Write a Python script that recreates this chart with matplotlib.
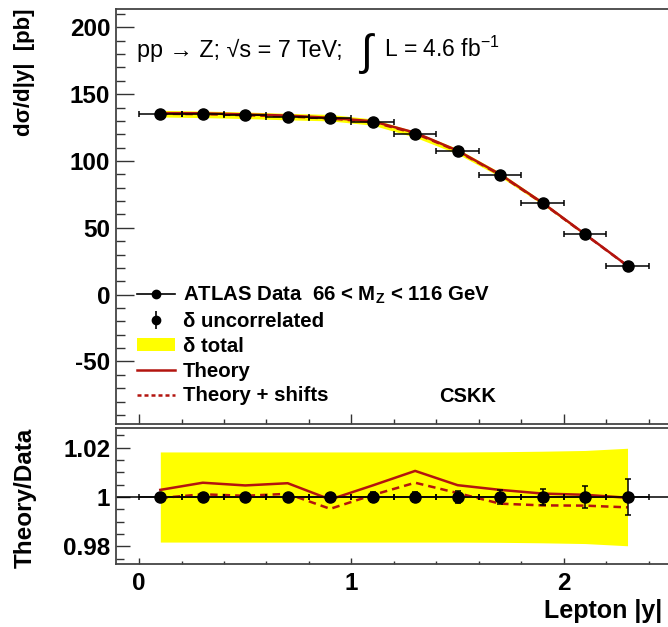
import matplotlib
matplotlib.use('Agg')
import matplotlib.pyplot as plt
import numpy as np
from matplotlib.lines import Line2D
from matplotlib.patches import Patch
from matplotlib.ticker import MultipleLocator

plt.rcParams['font.family'] = ['Liberation Sans', 'DejaVu Sans']
plt.rcParams['mathtext.fontset'] = 'custom'
plt.rcParams['mathtext.rm'] = 'Liberation Sans'
plt.rcParams['mathtext.bf'] = 'Liberation Sans:bold'
plt.rcParams['mathtext.it'] = 'Liberation Sans:italic'
plt.rcParams['axes.unicode_minus'] = False

# lepton |y| bins (centres), half width 0.1
y_centres = [0.1, 0.3, 0.5, 0.7, 0.9, 1.1, 1.3, 1.5, 1.7, 1.9, 2.1, 2.3]
y_halfwidth = [0.1] * 12

# measured d sigma / d|y| [pb]
xsec = [135.4, 134.9, 134.2, 133.2, 132.4, 129.1, 119.9, 107.2, 89.8, 68.6, 45.2, 21.6]
# relative uncertainties
unc_uncorr = [0.0012, 0.0012, 0.0012, 0.0012, 0.0013, 0.0022, 0.0022, 0.0025, 0.0027, 0.0034, 0.0046, 0.0075]
unc_total = [0.0183, 0.0183, 0.0183, 0.0183, 0.0183, 0.0183, 0.0183, 0.0183, 0.0184, 0.0186, 0.0189, 0.0198]

# theory / data ratios (CSKK)
ratio_theory = [1.0029, 1.0058, 1.0047, 1.0056, 0.9990, 1.0047, 1.0106, 1.0048, 1.0029, 1.0014, 1.0009, 0.9997]
ratio_shifted = [0.9996, 1.0011, 1.0005, 1.0013, 0.9952, 1.0008, 1.0058, 1.0016, 0.9973, 0.9966, 0.9965, 0.9958]

x = np.array(y_centres)
xe = np.array(y_halfwidth)
d = np.array(xsec)
r_unc = np.array(unc_uncorr)
r_tot = np.array(unc_total)
th = d * np.array(ratio_theory)
th_s = d * np.array(ratio_shifted)

RED = '#b3140f'
YEL = '#ffff00'
W, H = 668, 627

fig = plt.figure(figsize=(W / 100, H / 100), dpi=100)
ax1 = fig.add_axes([115.7 / W, 1 - 424.3 / H, (670 - 115.7) / W, (424.3 - 9) / H])
ax2 = fig.add_axes([115.7 / W, 1 - 564 / H, (670 - 115.7) / W, (564 - 428.3) / H])

# ---- top panel
ax1.fill_between(x, d * (1 - r_tot), d * (1 + r_tot), color=YEL, lw=0, zorder=1)
ax1.plot(x, th, color=RED, lw=1.8, zorder=2)
ax1.plot(x, th_s, color=RED, lw=1.8, ls=(0, (3, 2)), zorder=2)
ax1.errorbar(x, d, xerr=xe, yerr=d * r_unc, fmt='o', color='k', ms=8,
             elinewidth=1.1, capsize=2.5, capthick=1.1, zorder=3)
ax1.set_xlim(-0.11, 2.5)
ax1.set_ylim(-97, 213.7)

# legend
h_data = Line2D([], [], color='k', lw=1.2, marker='o', ms=6)
h_unc = (Line2D([], [], color='k', ls='none', marker='|', ms=13, mew=1.2),
         Line2D([], [], color='k', ls='none', marker='o', ms=6))
h_tot = Patch(facecolor=YEL, edgecolor='none')
h_th = Line2D([], [], color=RED, lw=1.8)
h_ths = Line2D([], [], color=RED, lw=1.8, ls=(0, (1.6, 1.2)))
leg = ax1.legend([h_data, h_unc, h_tot, h_th, h_ths],
                 [r'ATLAS Data  66 < M$_{\mathbf{Z}}$ < 116 GeV', 'δ uncorrelated',
                  'δ total', 'Theory', 'Theory + shifts'],
                 loc='upper left', bbox_to_anchor=(0.038, 0.335), frameon=False,
                 prop={'weight': 'bold', 'size': 14.7}, handlelength=1.86,
                 handleheight=0.6, handletextpad=0.4, labelspacing=0.28,
                 borderaxespad=0, borderpad=0)

fig.text(468 / W, 1 - 396 / H, 'CSKK', ha='center', va='center',
         fontsize=14.5, fontweight='bold')

# title pieces
fig.text(137 / W, 1 - 57 / H, 'pp → Z; √s = 7 TeV;',
         fontsize=16.8, ha='left', va='baseline')
fig.text(367 / W, 1 - 53 / H, r'$\int$', fontsize=31, ha='center', va='center')
fig.text(384 / W, 1 - 57 / H, r'L = 4.6 fb$^{\mathrm{-1}}$', fontsize=16.5,
         ha='left', va='baseline')

# ---- bottom panel
ax2.fill_between(x, 1 - r_tot, 1 + r_tot, color=YEL, lw=0, zorder=1)
ax2.axhline(1.0, color='k', lw=1.1, zorder=2)
ax2.plot(x, ratio_theory, color=RED, lw=1.8, zorder=3)
ax2.plot(x, ratio_shifted, color=RED, lw=1.8, ls=(0, (3, 2)), zorder=3)
ax2.errorbar(x, np.ones_like(x), xerr=xe, yerr=r_unc, fmt='o', color='k', ms=8,
             elinewidth=1.1, capsize=2.5, capthick=1.1, zorder=4)
ax2.set_xlim(-0.11, 2.5)
ax2.set_ylim(0.9728, 1.0279)

for ax in (ax1, ax2):
    ax.xaxis.set_major_locator(MultipleLocator(1))
    ax.xaxis.set_minor_locator(MultipleLocator(0.2))
    ax.tick_params(which='both', direction='in', left=True, bottom=True,
                   top=False, right=False, width=1.0, color='#333333',
                   labelsize=17.5)
    for side in ('left', 'bottom', 'top'):
        ax.spines[side].set_color('#444444')
        ax.spines[side].set_linewidth(1.3)
    ax.spines['right'].set_visible(False)

ax1.yaxis.set_major_locator(MultipleLocator(50))
ax1.yaxis.set_minor_locator(MultipleLocator(10))
ax1.tick_params(axis='y', which='major', length=13, pad=4)
ax1.tick_params(axis='y', which='minor', length=6.5)
ax1.tick_params(axis='x', which='major', length=7, labelbottom=False)
ax1.tick_params(axis='x', which='minor', length=3.6)

ax2.yaxis.set_minor_locator(MultipleLocator(0.005))
ax2.set_yticks([0.98, 1.0, 1.02])
ax2.set_yticklabels(['0.98', '1', '1.02'])
ax2.tick_params(axis='y', which='major', length=10, pad=4)
ax2.tick_params(axis='y', which='minor', length=6)
ax2.tick_params(axis='x', which='major', length=4.5, pad=6)
ax2.tick_params(axis='x', which='minor', length=2.5)
for ax in (ax1, ax2):
    for lab in ax.get_xticklabels() + ax.get_yticklabels():
        lab.set_fontweight('bold')

fig.text(25 / W, 1 - 8 / H, 'dσ/d|y|  [pb]', rotation=90, ha='center', va='top',
         fontsize=16, fontweight='bold')
fig.text(25 / W, 1 - 428 / H, 'Theory/Data', rotation=90, ha='center', va='top',
         fontsize=17.5, fontweight='bold')
fig.text(662 / W, 1 - 611 / H, 'Lepton |y|', ha='right', va='center',
         fontsize=18, fontweight='bold')

fig.savefig('out.png', dpi=100)
